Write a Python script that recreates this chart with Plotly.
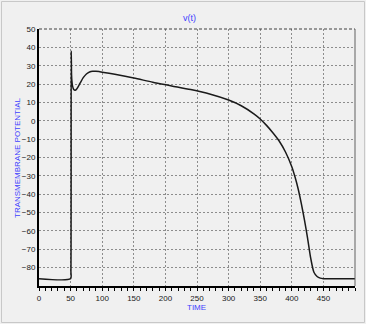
import plotly.graph_objects as go

# Data
time = [0, 50, 50.5, 51, 51.5, 52, 53, 55, 57, 60, 65, 70, 75, 80, 85, 90, 95, 100,
        120, 150, 180, 210, 240, 270, 300, 320, 340, 350, 360, 370, 380, 390, 400,
        405, 410, 415, 420, 425, 430, 435, 440, 445, 450, 500]
voltage = [-86, -86, -82, 38, 25, 22, 19, 17, 16.6, 17.5, 20.5, 23.5, 25.5, 26.6, 27.0, 27.0, 26.8, 26.5,
           25.3, 23.3, 21.0, 19.0, 17.0, 14.6, 11.3, 8.2, 3.8, 1.0, -2.5, -6.5, -11.0, -17.0, -25,
           -30.5, -37, -45, -54, -64, -75, -82.5, -84.8, -85.7, -86, -86]

x_ticks = [0, 50, 100, 150, 200, 250, 300, 350, 400, 450]
y_ticks = [-80, -70, -60, -50, -40, -30, -20, -10, 0, 10, 20, 30, 40, 50]

W, H = 366, 324
L, R, T, B = 39, 11, 29, 38
pw, ph = W - L - R, H - T - B

def px_x(p):
    return (p - L) / pw

def px_y(p):
    return 1 - (p - T) / ph

fig = go.Figure(go.Scatter(x=time, y=voltage, mode='lines',
                           line=dict(color='#1a1a1a', width=1.5, shape='spline', smoothing=0.7)))

tickfont = dict(family='Liberation Sans, Arial, sans-serif', size=8, color='#1a1a1a')
blue = '#4040ff'
afont = dict(family='Liberation Sans, Arial, sans-serif', size=8, color=blue)

fig.update_layout(
    width=W, height=H,
    margin=dict(l=L, r=R, t=T, b=B, autoexpand=False),
    paper_bgcolor='#f0f0f0', plot_bgcolor='#f0f0f0',
    showlegend=False,
    font=tickfont,
)

grid = dict(showgrid=True, gridcolor='#8c8c8c', griddash='2px,2px', gridwidth=1)

fig.update_xaxes(range=[0, 500], tickvals=x_ticks, ticks='outside', ticklen=3,
                 tickcolor='#000000', tickfont=tickfont, automargin=False,
                 showline=True, linecolor='#000000', linewidth=2,
                 zeroline=False, **grid,
                 minor=dict(dtick=10, ticks='outside', ticklen=3, tickcolor='#000000', showgrid=False))
fig.update_yaxes(range=[-90, 50], tickvals=y_ticks, ticks='', tickfont=tickfont, automargin=False,
                 showline=True, linecolor='#000000', linewidth=2,
                 zeroline=False, **grid)

# Top and right frame lines
fig.add_shape(type='line', xref='paper', yref='paper', x0=0, x1=1, y0=1, y1=1,
              line=dict(color='#404040', width=1, dash='3px,2px'))
fig.add_shape(type='line', xref='paper', yref='paper', x0=1, x1=1, y0=0, y1=1,
              line=dict(color='#606060', width=1))
# Outer border
fig.add_shape(type='rect', xref='paper', yref='paper',
              x0=px_x(1.5), x1=px_x(364.5), y0=px_y(322.5), y1=px_y(1.5),
              line=dict(color='#c8c8c8', width=1), layer='below')

fig.add_annotation(text='v(t)', xref='paper', yref='paper', x=px_x(189), y=px_y(18),
                   xanchor='center', yanchor='middle', showarrow=False,
                   font=dict(family='Liberation Sans, Arial, sans-serif', size=9, color=blue))
fig.add_annotation(text='TIME', xref='paper', yref='paper', x=px_x(196), y=px_y(307),
                   xanchor='center', yanchor='middle', showarrow=False, font=afont)
fig.add_annotation(text='TRANSMEMBRANE POTENTIAL', xref='paper', yref='paper', x=px_x(17), y=px_y(158),
                   xanchor='center', yanchor='middle', showarrow=False, textangle=-90, font=afont)

fig.write_html('out.html', config={'displayModeBar': False},
               post_script="document.body.style.margin='0';document.body.style.background='#f0f0f0';")
